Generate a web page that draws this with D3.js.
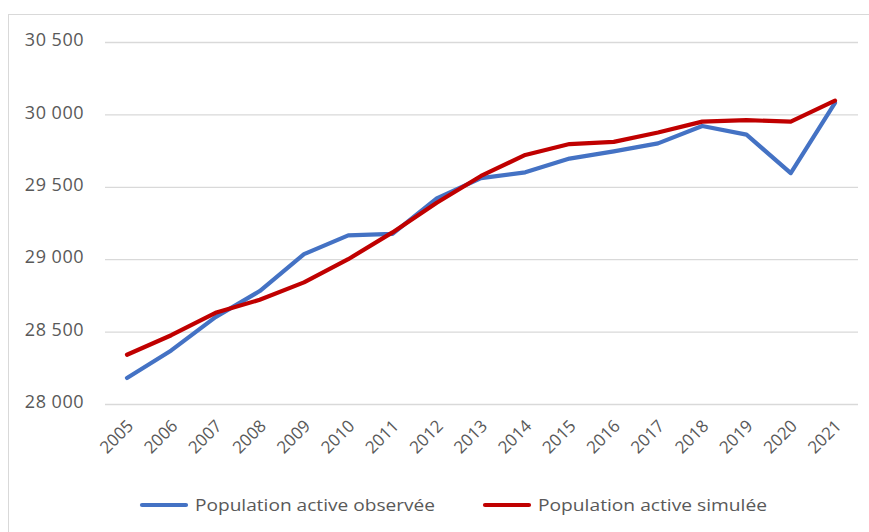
<!DOCTYPE html>
<html>
<head>
<meta charset="utf-8">
<script src="https://cdn.jsdelivr.net/npm/d3@7"></script>
<style>
  html, body { margin: 0; padding: 0; background: #ffffff; }
  svg { display: block; }
  text { font-family: "Open Sans", "Noto Sans", sans-serif; fill: #595959; }
</style>
</head>
<body>
<svg id="chart" width="869" height="532"></svg>
<script>
const years = ["2005","2006","2007","2008","2009","2010","2011","2012","2013","2014","2015","2016","2017","2018","2019","2020","2021"];
const observed = [28180, 28370, 28600, 28780, 29035, 29165, 29175, 29420, 29560, 29600, 29695, 29745, 29800, 29920, 29860, 29595, 30080];
const simulated = [28340, 28475, 28630, 28720, 28840, 29000, 29185, 29390, 29575, 29720, 29795, 29810, 29875, 29950, 29960, 29950, 30095];
const yTicks = [28000, 28500, 29000, 29500, 30000, 30500];
const seriesNames = ["Population active observée", "Population active simulée"];
const seriesColors = ["#4472C4", "#C00000"];

const svg = d3.select("#chart");

// outer frame
svg.append("rect")
  .attr("x", 8.5).attr("y", 14.5)
  .attr("width", 900).attr("height", 600)
  .attr("fill", "none").attr("stroke", "#d9d9d9").attr("stroke-width", 1);

const x = d3.scalePoint().domain(years).range([127, 835]);
const y = d3.scaleLinear().domain([28000, 30500]).range([404, 42]);

const fmt = v => d3.format(",")(v).replace(/,/g, " ");

// gridlines
const yAxis = d3.axisLeft(y).tickValues(yTicks).tickSize(-(858 - 105)).tickFormat(fmt).tickPadding(21);
const gy = svg.append("g").attr("transform", "translate(105,0)").call(yAxis);
gy.select(".domain").remove();
gy.selectAll(".tick line").attr("stroke", "#d9d9d9").attr("stroke-width", 1.3);
gy.selectAll(".tick text")
  .attr("fill", "#595959")
  .style("font-size", "18px")
  .style("letter-spacing", "0.5px")
  .attr("dy", "0.2em");

// x axis labels
const xAxis = d3.axisBottom(x).tickSize(0).tickPadding(0);
const gx = svg.append("g").attr("transform", "translate(0,404)").call(xAxis);
gx.select(".domain").remove();
gx.selectAll(".tick text")
  .attr("fill", "#595959")
  .style("font-size", "17px")
  .attr("text-anchor", "end")
  .attr("dy", null)
  .attr("transform", "translate(7,23) rotate(-45)");

// lines
const line = d3.line().x((d, i) => x(years[i])).y(d => y(d));
[observed, simulated].forEach((s, k) => {
  svg.append("path")
    .datum(s)
    .attr("d", line)
    .attr("fill", "none")
    .attr("stroke", seriesColors[k])
    .attr("stroke-width", 4.2)
    .attr("stroke-linejoin", "round")
    .attr("stroke-linecap", "round");
});

// legend
const legendX = [140, 483];
const legendW = [240, 229];
seriesNames.forEach((name, k) => {
  const g = svg.append("g").attr("transform", `translate(${legendX[k]},505)`);
  g.append("line")
    .attr("x1", 2).attr("x2", 46).attr("y1", 0).attr("y2", 0)
    .attr("stroke", seriesColors[k]).attr("stroke-width", 4.2)
    .attr("stroke-linecap", "round");
  g.append("text")
    .attr("x", 55).attr("y", 0).attr("dy", "0.35em")
    .style("font-size", "17px")
    .attr("textLength", legendW[k])
    .attr("lengthAdjust", "spacingAndGlyphs")
    .text(name);
});
</script>
</body>
</html>
